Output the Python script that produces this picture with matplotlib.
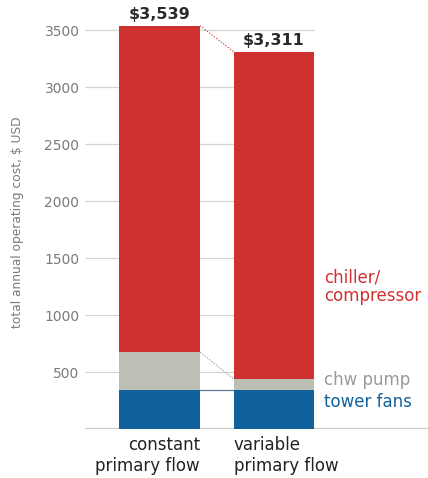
import matplotlib
matplotlib.use("Agg")
import matplotlib.pyplot as plt

categories = ["constant\nprimary flow", "variable\nprimary flow"]
tower_fans = [345, 345]
chw_pump = [330, 95]
chiller = [2864, 2871]
totals_label = ["$3,539", "$3,311"]
series_names = ["tower fans", "chw pump", "chiller/\ncompressor"]
yticks = [500, 1000, 1500, 2000, 2500, 3000, 3500]

RED = "#cf3131"
GRAY = "#bcbfb4"
BLUE = "#11629c"

fig = plt.figure(figsize=(4.28, 4.78), dpi=100)
W, H = 428, 478
ax = fig.add_axes([85 / W, (H - 429) / H, 1 - 85 / W, 428 / H])

x = [0, 1]
width = 0.707
ax.bar(x, tower_fans, width, color=BLUE, zorder=3)
bot2 = tower_fans
ax.bar(x, chw_pump, width, bottom=bot2, color=GRAY, zorder=3)
bot3 = [a + b for a, b in zip(tower_fans, chw_pump)]
ax.bar(x, chiller, width, bottom=bot3, color=RED, zorder=3)
tops = [a + b for a, b in zip(bot3, chiller)]

xmin, xmax = -0.651, 2.345
ax.set_xlim(xmin, xmax)
ax.set_ylim(0, 3755)

for s in ax.spines.values():
    s.set_visible(False)
ax.set_yticks(yticks)
ax.set_yticklabels([str(t) for t in yticks], color="#7a7a7a", fontsize=10)
ax.tick_params(axis="y", length=0, pad=4)
ax.set_xticks([])

x2r = x[1] + width / 2
ax.hlines(yticks, xmin, x2r, color="#d4d4d4", linewidth=0.9, zorder=0)
ax.axhline(12, color="#cccccc", linewidth=0.9, zorder=1)

ax.set_ylabel("total annual operating cost, $ USD", color="#7a7a7a", fontsize=8.8)
ax.yaxis.set_label_coords(-61 / (W - 85), (429 - 222) / 428)

# connectors
x1r = x[0] + width / 2
x2l = x[1] - width / 2
ax.plot([x1r, x2l], [tops[0], tops[1]], color="#c04040", linestyle=(0, (1.5, 1.5)), linewidth=0.7, zorder=2)
ax.plot([x1r, x2l], [bot3[0], bot3[1]], color="#999999", linestyle=(0, (1.5, 1.5)), linewidth=0.7, zorder=2)
ax.plot([x1r, x2l], [tower_fans[0], tower_fans[1]], color="#5b7f99", linewidth=0.9, zorder=2)

# totals
for xi, t, lab in zip(x, tops, totals_label):
    ax.text(xi, t + 60, lab, ha="center", va="baseline", fontsize=11.5, fontweight="bold", color="#2a2a2a")

# category labels
ax.text(x[0] + width / 2, -65, categories[0], ha="right", va="top", fontsize=12, color="#222222", linespacing=1.15)
ax.text(x[1] - width / 2, -65, categories[1], ha="left", va="top", fontsize=12, color="#222222", linespacing=1.15)

# series labels
lx = x2r + 0.08
ax.text(lx, 1245, series_names[2], ha="left", va="center", fontsize=12, color=RED, linespacing=1.05)
ax.text(lx, 430, series_names[1], ha="left", va="center", fontsize=12, color="#9a9a9a")
ax.text(lx, 235, series_names[0], ha="left", va="center", fontsize=12, color=BLUE)

fig.savefig("out.png", dpi=100)
